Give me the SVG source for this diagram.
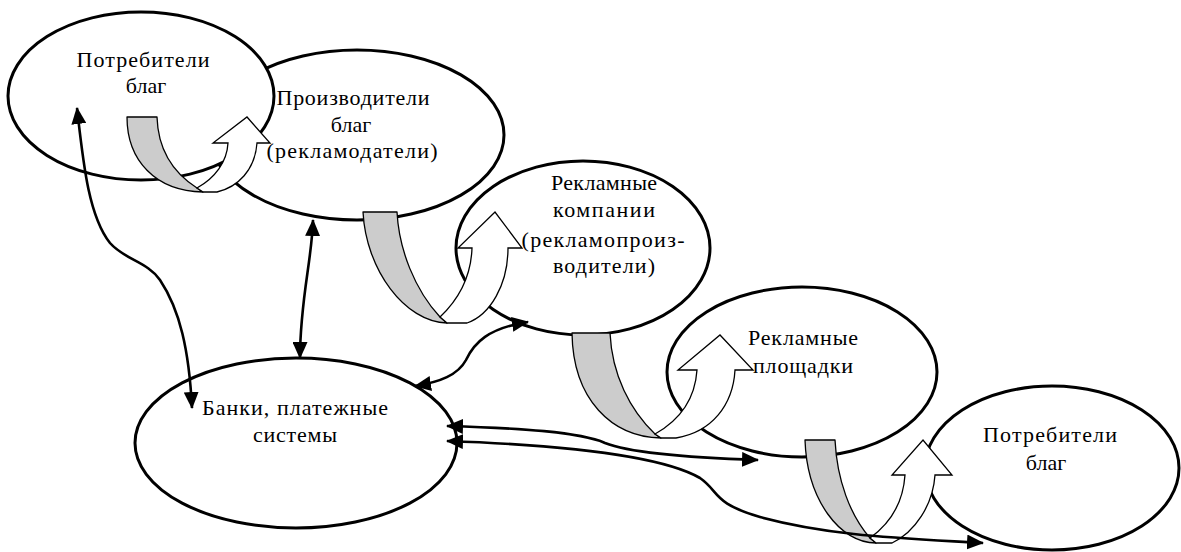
<svg xmlns="http://www.w3.org/2000/svg" width="1181" height="552" viewBox="0 0 1181 552">
<style>
.oval{fill:#fff;stroke:#000;stroke-width:3}
.t{font-family:"Liberation Serif","Times New Roman",serif;font-size:22px;fill:#000;text-anchor:middle}
.back{fill:#cccccc;stroke:#000;stroke-width:1.3;stroke-linejoin:round}
.front{fill:#fff;stroke:#000;stroke-width:1.3;stroke-linejoin:miter}
.con{fill:none;stroke:#000;stroke-width:2.6;marker-start:url(#ah);marker-end:url(#ah)}
</style>
<defs>
<marker id="ah" markerUnits="userSpaceOnUse" markerWidth="17" markerHeight="15" viewBox="0 0 17 15" refX="16" refY="7.5" orient="auto-start-reverse"><path d="M0,0 L17,7.5 L0,15 z" fill="#000"/></marker>
</defs>
<g id="producers">
<ellipse class="oval" cx="357" cy="135" rx="147" ry="85"/>
<text class="t" x="353" y="105" textLength="153" lengthAdjust="spacing">Производители</text>
<text class="t" x="351" y="132">благ</text>
<text class="t" x="352" y="158" textLength="171" lengthAdjust="spacing">(рекламодатели)</text>
</g>
<g id="consumers1">
<ellipse class="oval" cx="141" cy="96" rx="133" ry="84"/>
<text class="t" x="143" y="67" textLength="133" lengthAdjust="spacing">Потребители</text>
<text class="t" x="146" y="93">благ</text>
</g>
<g id="agencies">
<ellipse class="oval" cx="583" cy="248" rx="127" ry="87"/>
<text class="t" x="604" y="190" textLength="106" lengthAdjust="spacing">Рекламные</text>
<text class="t" x="604" y="217" textLength="102" lengthAdjust="spacing">компании</text>
<text class="t" x="603" y="247" textLength="163" lengthAdjust="spacing">(рекламопроиз-</text>
<text class="t" x="604" y="273" textLength="102" lengthAdjust="spacing">водители)</text>
</g>
<g id="platforms">
<ellipse class="oval" cx="802" cy="372" rx="135" ry="85"/>
<text class="t" x="803" y="345" textLength="110" lengthAdjust="spacing">Рекламные</text>
<text class="t" x="803" y="373" textLength="100" lengthAdjust="spacing">площадки</text>
</g>
<g id="consumers2">
<ellipse class="oval" cx="1052" cy="468" rx="127" ry="82"/>
<text class="t" x="1050" y="442" textLength="134" lengthAdjust="spacing">Потребители</text>
<text class="t" x="1046" y="470">благ</text>
</g>
<g id="banks">
<ellipse class="oval" cx="296" cy="443" rx="161" ry="85"/>
<text class="t" x="295" y="415" textLength="186" lengthAdjust="spacing">Банки, платежные</text>
<text class="t" x="295" y="442" textLength="84" lengthAdjust="spacing">системы</text>
</g>
<g id="connectors">
<g id="flow1">
<path class="back" d="M127,117 L157,117 C158,150 172,172 197,188 L203,192 C155,191 127,160 127,117 Z"/>
<path class="front" d="M197,188 C215,178 227,162 228,143 L213,143 L247,117 L270,143 L257,143 C255,170 238,187 217,192 L203,192 Z"/>
</g>
<g id="flow2">
<path class="back" d="M363,212 L397,212 C399,250 415,290 440,317 L447,323 C405,322 366,270 363,212 Z"/>
<path class="front" d="M440,317 C458,300 471,278 472,248 L458,248 L495,212 L522,248 L508,248 C508,285 490,315 467,323 L447,323 Z"/>
</g>
<g id="flow3">
<path class="back" d="M572,333 L610,333 C612,375 630,410 655,434 L661,438 C612,437 573,400 572,333 Z"/>
<path class="front" d="M655,434 C680,420 695,400 697,370 L678,370 L720,335 L753,370 L735,370 C733,405 712,432 676,438 L661,438 Z"/>
</g>
<g id="flow4">
<path class="back" d="M805,440 L835,440 C837,480 850,515 870,538 L876,543 C840,543 807,500 805,440 Z"/>
<path class="front" d="M870,538 C888,525 903,505 905,475 L892,475 L923,440 L952,475 L935,475 C933,505 915,532 892,543 L876,543 Z"/>
</g>
<path class="con" d="M77,108 C83,160 88,215 110,243 C125,260 148,262 160,280 C180,310 189,350 192,408"/>
<path class="con" d="M313,220 C312,260 300,300 300,358"/>
<path class="con" d="M415,386 C440,382 458,375 466,360 C474,343 488,328 528,322"/>
<path class="con" d="M447,426 C520,428 580,432 605,443 C630,453 700,458 758,460"/>
<path class="con" d="M447,441 C560,445 660,455 700,478 C720,492 712,503 760,517 C830,536 900,538 983,543"/>
</g>
</svg>
